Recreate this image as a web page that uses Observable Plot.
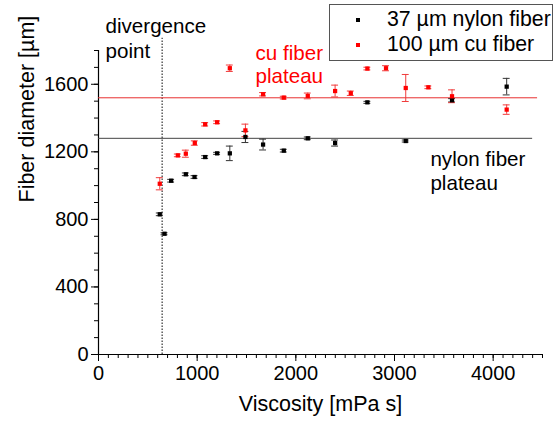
<!DOCTYPE html>
<html><head><meta charset="utf-8">
<script src="https://cdn.jsdelivr.net/npm/d3@7"></script>
<script src="https://cdn.jsdelivr.net/npm/@observablehq/plot@0.6"></script>
<style>
body{margin:0;background:#fff;}
#wrap{position:relative;width:559px;height:425px;font-family:"Liberation Sans",Arial,sans-serif;}
#legend{position:absolute;left:329px;top:4px;width:224px;height:57px;border:1.5px solid #555;box-sizing:border-box;background:#fff;font-size:21.3px;color:#000;}
#legend .row{position:absolute;left:0;height:25px;line-height:25px;white-space:nowrap;}
#legend .sw{position:absolute;left:26px;top:11px;width:4px;height:4px;}
#legend .lab{position:absolute;left:57px;top:0;}
</style>
</head><body>
<div id="wrap"><div id="chart"></div>
<div id="legend"></div></div>
<script>
// ---- data ----
const nylonV   = [621, 669, 736, 885, 973, 1081, 1202, 1331, 1489, 1668, 1878, 2121, 2398, 2725, 3114, 3583, 4137];
const nylonD   = [830, 715, 1029, 1067, 1051, 1169, 1191, 1191, 1288, 1243, 1207, 1280, 1252, 1493, 1264, 1505, 1586];
const nylonErr = [8, 6, 8, 8, 8, 8, 6, 43, 33, 32, 8, 8, 18, 6, 6, 10, 49];

const cuV   = [621, 804, 885, 976, 1081, 1202, 1331, 1489, 1668, 1878, 2121, 2398, 2557, 2725, 2914, 3114, 3343, 3583, 4137];
const cuD   = [1011, 1179, 1189, 1252, 1363, 1375, 1695, 1327, 1541, 1521, 1531, 1560, 1547, 1693, 1695, 1578, 1582, 1529, 1450];
const cuErr = [36, 8, 21, 13, 10, 8, 19, 37, 10, 8, 17, 35, 13, 8, 15, 80, 8, 38, 28];

const nylonPlateau = 1280;
const cuPlateau = 1520;
const divergencePoint = 645;

const xTicks = [0, 1000, 2000, 3000, 4000];
const yTicks = [0, 400, 800, 1200, 1600];
const seriesNames = ["37 µm nylon fiber", "100 µm cu fiber"];
const seriesColors = ["#000000", "#ff0000"];

const nylon = nylonV.map((v, i) => ({v, d: nylonD[i], e: nylonErr[i]}));
const cu = cuV.map((v, i) => ({v, d: cuD[i], e: cuErr[i]}));

const capHalf = 35;
function errorMarks(data, color) {
  return [
    Plot.ruleX(data, {x: "v", y1: d => d.d - d.e, y2: d => d.d + d.e, stroke: color, strokeWidth: 1}),
    Plot.ruleY(data, {y: d => d.d - d.e, x1: d => d.v - capHalf, x2: d => d.v + capHalf, stroke: color, strokeWidth: 1}),
    Plot.ruleY(data, {y: d => d.d + d.e, x1: d => d.v - capHalf, x2: d => d.v + capHalf, stroke: color, strokeWidth: 1})
  ];
}

const fmt = d3.format("d");
const chart = Plot.plot({
  width: 559, height: 425,
  marginLeft: 98, marginRight: 17, marginTop: 50, marginBottom: 71,
  style: {fontFamily: "Liberation Sans, Arial, sans-serif", fontSize: "20px", color: "#000", background: "transparent", overflow: "visible"},
  x: {domain: [0, 4500]},
  y: {domain: [0, 1800]},
  marks: [
    Plot.axisX({ticks: d3.range(0, 4501, 100), tickSize: 4, text: null, label: null, stroke: "#000"}),
    Plot.axisX({ticks: xTicks, tickSize: 7, tickPadding: 4, tickFormat: fmt, label: null, fontSize: 20, stroke: "#000"}),
    Plot.axisY({ticks: d3.range(0, 1801, 100), tickSize: 4, text: null, label: null, stroke: "#000"}),
    Plot.axisY({ticks: yTicks, tickSize: 7, tickPadding: 3, tickFormat: fmt, label: null, fontSize: 20, stroke: "#000"}),
    Plot.ruleX([0], {stroke: "#000", strokeWidth: 1.2}),
    Plot.ruleY([0], {stroke: "#000", strokeWidth: 1.2}),
    Plot.text(["Viscosity [mPa s]"], {frameAnchor: "bottom", dy: 56, fontSize: 21.5}),
    Plot.text(["Fiber diameter [µm]"], {frameAnchor: "left", dx: -71, rotate: -90, fontSize: 21.5}),
    Plot.ruleX([divergencePoint], {y1: 0, y2: 1873, stroke: "#333", strokeDasharray: "1.5,1.5", strokeWidth: 1.2}),
    Plot.ruleY([nylonPlateau], {x1: 0, x2: 4400, stroke: "#444", strokeWidth: 1}),
    Plot.ruleY([cuPlateau], {x1: 0, x2: 4450, stroke: "#e83030", strokeWidth: 1}),
    ...errorMarks(nylon, "#333"),
    ...errorMarks(cu, "#f03c3c"),
    Plot.dot(nylon, {x: "v", y: "d", symbol: "square", r: 2.4, fill: seriesColors[0], stroke: null}),
    Plot.dot(cu, {x: "v", y: "d", symbol: "square", r: 2.4, fill: seriesColors[1], stroke: null}),
    Plot.text(["divergence\npoint"], {x: 71, y: 1876, textAnchor: "start", lineAnchor: "middle", lineHeight: 1.22, fontSize: 20.6, fill: "#000"}),
    Plot.text(["cu fiber\nplateau"], {x: 1591, y: 1721, textAnchor: "start", lineAnchor: "middle", lineHeight: 1.15, fontSize: 20.6, fill: "#ff0000"}),
    Plot.text(["nylon fiber\nplateau"], {x: 3364, y: 1090, textAnchor: "start", lineAnchor: "middle", lineHeight: 1.15, fontSize: 20.6, fill: "#000"})
  ]
});
document.getElementById("chart").appendChild(chart);

const legend = document.getElementById("legend");
seriesNames.forEach((name, i) => {
  const row = document.createElement("div");
  row.className = "row";
  row.style.top = (2 + i * 25) + "px";
  row.style.width = "100%";
  const sw = document.createElement("div");
  sw.className = "sw";
  sw.style.background = seriesColors[i];
  const lab = document.createElement("div");
  lab.className = "lab";
  lab.textContent = name;
  row.appendChild(sw); row.appendChild(lab);
  legend.appendChild(row);
});
</script>
</body></html>
